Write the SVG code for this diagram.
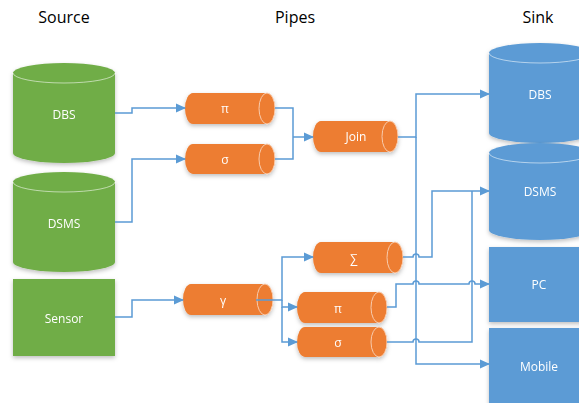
<svg xmlns="http://www.w3.org/2000/svg" width="579" height="403" viewBox="0 0 579 403">
<defs>
<filter id="sh" x="-20%" y="-20%" width="140%" height="150%">
<feDropShadow dx="0" dy="2" stdDeviation="2" flood-color="#000" flood-opacity="0.25"/>
</filter>
<marker id="ar" markerWidth="10" markerHeight="10" refX="9" refY="5" orient="auto" markerUnits="userSpaceOnUse">
<path d="M0,0.5 L10,5 L0,9.5 Z" fill="#5B9BD5"/>
</marker>
</defs>
<style>
.title{font-family:"Open Sans","Liberation Sans",sans-serif;font-size:16px;fill:#000;text-anchor:middle}
.lbl{font-family:"Open Sans","Liberation Sans",sans-serif;font-size:12px;fill:#fff;text-anchor:middle;dominant-baseline:central}
.green{fill:#70AD47}
.orange{fill:#ED7D31}
.blue{fill:#5B9BD5}
.rim{fill:none;stroke:#fff;stroke-opacity:0.55;stroke-width:1}
.orim{fill:none;stroke:#F8CBAD;stroke-width:1}
.c{fill:none;stroke:#5B9BD5;stroke-width:1.5}
</style>

<text class="title" x="64" y="23">Source</text>
<text class="title" x="295" y="23">Pipes</text>
<text class="title" x="538" y="23">Sink</text>

<g id="src-dbs" filter="url(#sh)">
<path class="green" d="M13,73 A51,10 0 0 1 115,73 V153 A51,10 0 0 1 13,153 Z"/>
<path class="rim" d="M13,73 A51,10 0 0 0 115,73"/>
<text class="lbl" x="64" y="114">DBS</text>
</g>
<g id="src-dsms" filter="url(#sh)">
<path class="green" d="M13,182 A51,10 0 0 1 115,182 V262 A51,10 0 0 1 13,262 Z"/>
<path class="rim" d="M13,182 A51,10 0 0 0 115,182"/>
<text class="lbl" x="64" y="223">DSMS</text>
</g>
<g id="src-sensor" filter="url(#sh)">
<rect class="green" x="13" y="279" width="102" height="77"/>
<text class="lbl" x="64" y="318">Sensor</text>
</g>

<g id="pipe-pi1" filter="url(#sh)">
<path class="orange" d="M193,93 H267 A8,15.5 0 0 1 267,124 H193 A8,15.5 0 0 1 193,93 Z"/>
<ellipse class="orim" cx="267" cy="108.5" rx="8" ry="15.5"/>
<text class="lbl" x="225" y="108">π</text>
</g>
<g id="pipe-sigma1" filter="url(#sh)">
<path class="orange" d="M193,144 H267 A8,15 0 0 1 267,174 H193 A8,15 0 0 1 193,144 Z"/>
<ellipse class="orim" cx="267" cy="159" rx="8" ry="15"/>
<text class="lbl" x="225" y="159">σ</text>
</g>
<g id="pipe-join" filter="url(#sh)">
<path class="orange" d="M321,121 H390 A8,15.5 0 0 1 390,152 H321 A8,15.5 0 0 1 321,121 Z"/>
<ellipse class="orim" cx="390" cy="136.5" rx="8" ry="15.5"/>
<text class="lbl" x="356" y="136">Join</text>
</g>
<g id="pipe-gamma" filter="url(#sh)">
<path class="orange" d="M191,284 H265 A8,15.5 0 0 1 265,315 H191 A8,15.5 0 0 1 191,284 Z"/>
<ellipse class="orim" cx="265" cy="299.5" rx="8" ry="15.5"/>
<text class="lbl" x="223" y="300">γ</text>
</g>
<g id="pipe-sum" filter="url(#sh)">
<path class="orange" d="M321,242 H395 A8,15.5 0 0 1 395,273 H321 A8,15.5 0 0 1 321,242 Z"/>
<ellipse class="orim" cx="395" cy="257.5" rx="8" ry="15.5"/>
<text class="lbl" x="354" y="258">∑</text>
</g>
<g id="pipe-pi2" filter="url(#sh)">
<path class="orange" d="M305,292 H379 A8,15.5 0 0 1 379,323 H305 A8,15.5 0 0 1 305,292 Z"/>
<ellipse class="orim" cx="379" cy="307.5" rx="8" ry="15.5"/>
<text class="lbl" x="338" y="308">π</text>
</g>
<g id="pipe-sigma2" filter="url(#sh)">
<path class="orange" d="M305,327 H379 A8,15 0 0 1 379,357 H305 A8,15 0 0 1 305,327 Z"/>
<ellipse class="orim" cx="379" cy="342" rx="8" ry="15"/>
<text class="lbl" x="338" y="342">σ</text>
</g>

<g id="sink-dbs" filter="url(#sh)">
<path class="blue" d="M489,53 A51,10 0 0 1 591,53 V133 A51,10 0 0 1 489,133 Z"/>
<path class="rim" d="M489,53 A51,10 0 0 0 591,53"/>
<text class="lbl" x="540" y="94">DBS</text>
</g>
<g id="sink-dsms" filter="url(#sh)">
<path class="blue" d="M489,153 A51,10 0 0 1 591,153 V230 A51,10 0 0 1 489,230 Z"/>
<path class="rim" d="M489,153 A51,10 0 0 0 591,153"/>
<text class="lbl" x="540" y="191">DSMS</text>
</g>
<g id="sink-pc" filter="url(#sh)">
<rect class="blue" x="489" y="247" width="102" height="75"/>
<text class="lbl" x="539" y="284">PC</text>
</g>
<g id="sink-mobile" filter="url(#sh)">
<rect class="blue" x="489" y="328" width="102" height="80"/>
<text class="lbl" x="539" y="366">Mobile</text>
</g>

<g id="connectors">
<path class="c" d="M115,113 H132 V108 H185" marker-end="url(#ar)"/>
<path class="c" d="M115,222 H132 V159 H185" marker-end="url(#ar)"/>
<path class="c" d="M115,317 H132 V300 H183" marker-end="url(#ar)"/>
<path class="c" d="M275,108 H293 V159 H275"/>
<path class="c" d="M293,137 H313" marker-end="url(#ar)"/>
<path class="c" d="M398,137 H416 V94 H489" marker-end="url(#ar)"/>
<path class="c" d="M416,137 V364 H489" marker-end="url(#ar)"/>
<path class="c" d="M256,300 H282 V257 H313" marker-end="url(#ar)"/>
<path class="c" d="M282,300 V307 H297" marker-end="url(#ar)"/>
<path class="c" d="M282,307 V342 H297" marker-end="url(#ar)"/>
<path class="c" d="M403,257 H413 a3,3 0 0 1 6,0 H432 V191 H489" marker-end="url(#ar)"/>
<path class="c" d="M387,307 H396 V284 H413 a3,3 0 0 1 6,0 H469 a3,3 0 0 1 6,0 H489" marker-end="url(#ar)"/>
<path class="c" d="M387,342 H413 a3,3 0 0 1 6,0 H472 V191"/>
</g>
</svg>
